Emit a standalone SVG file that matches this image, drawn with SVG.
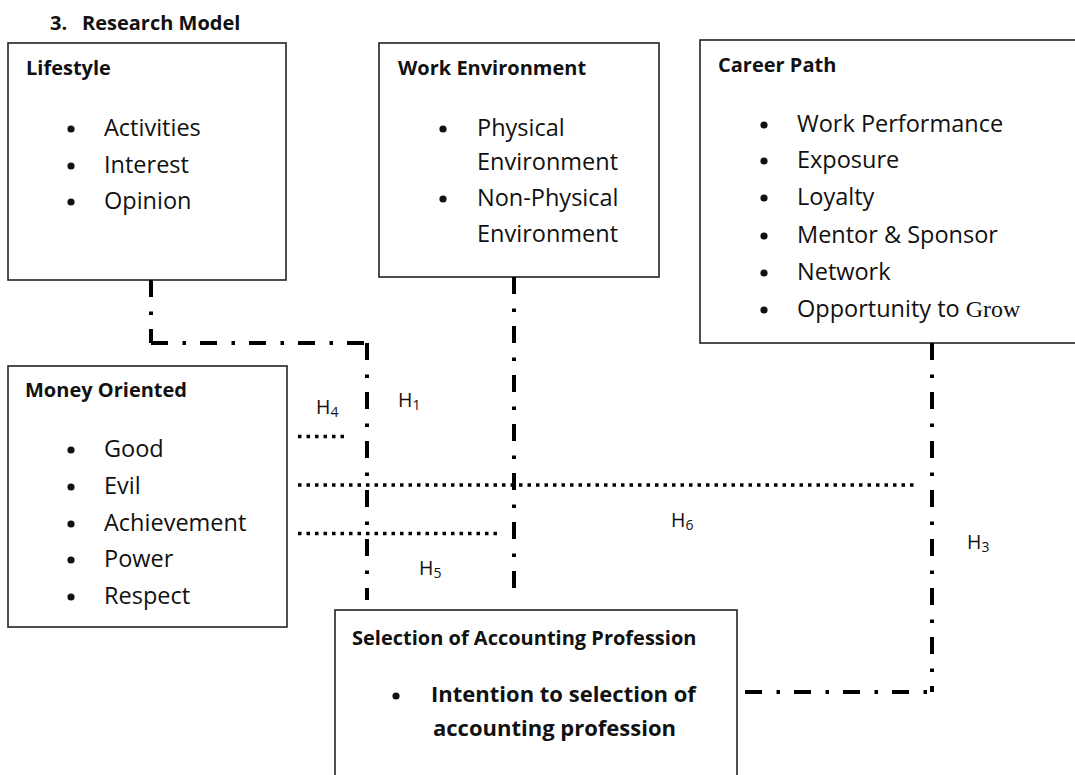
<svg xmlns="http://www.w3.org/2000/svg" width="1075" height="775" viewBox="0 0 1075 775">
<style>
.box{fill:#fff;stroke:#222;stroke-width:1.6}
.t{font-family:"Open Sans","Liberation Sans",sans-serif;font-weight:bold;font-size:20px;fill:#111}
.b{font-family:"Open Sans","Liberation Sans",sans-serif;font-size:23.5px;fill:#111}
.bb{font-family:"Open Sans","Liberation Sans",sans-serif;font-weight:bold;font-size:22px;fill:#111}
.h{font-family:"Open Sans","Liberation Sans",sans-serif;font-size:19.5px;fill:#111}
.s{font-size:14px}
.dot{fill:#111}
.dd{fill:none;stroke:#000;stroke-width:4;stroke-dasharray:17 14.5 3.5 14}
.dt{fill:none;stroke:#000;stroke-width:3.5;stroke-dasharray:3.5 5}
</style>
<rect width="1075" height="775" fill="#fff"/>
<text class="t" x="50" y="30">3.<tspan x="82">Research Model</tspan></text>

<g id="lifestyle">
<rect class="box" x="8" y="43" width="278" height="237"/>
<text class="t" x="26" y="75">Lifestyle</text>
<circle class="dot" cx="71" cy="129" r="3.6"/>
<circle class="dot" cx="71" cy="166" r="3.6"/>
<circle class="dot" cx="71" cy="202" r="3.6"/>
<text class="b" x="104" y="136">Activities</text>
<text class="b" x="104" y="173">Interest</text>
<text class="b" x="104" y="209">Opinion</text>
</g>

<g id="work-environment">
<rect class="box" x="379" y="43" width="280" height="234"/>
<text class="t" x="398" y="75">Work Environment</text>
<circle class="dot" cx="443" cy="129" r="3.6"/>
<circle class="dot" cx="443" cy="199" r="3.6"/>
<text class="b" x="477" y="136">Physical</text>
<text class="b" x="477" y="170">Environment</text>
<text class="b" x="477" y="206">Non-Physical</text>
<text class="b" x="477" y="242">Environment</text>
</g>

<g id="career-path">
<rect class="box" x="700" y="40" width="400" height="303"/>
<text class="t" x="718" y="72">Career Path</text>
<circle class="dot" cx="764" cy="125" r="3.6"/>
<circle class="dot" cx="764" cy="161" r="3.6"/>
<circle class="dot" cx="764" cy="198" r="3.6"/>
<circle class="dot" cx="764" cy="236" r="3.6"/>
<circle class="dot" cx="764" cy="273" r="3.6"/>
<circle class="dot" cx="764" cy="310" r="3.6"/>
<text class="b" x="797" y="132">Work Performance</text>
<text class="b" x="797" y="168">Exposure</text>
<text class="b" x="797" y="205">Loyalty</text>
<text class="b" x="797" y="243">Mentor &amp; Sponsor</text>
<text class="b" x="797" y="280">Network</text>
<text class="b" x="797" y="317">Opportunity to <tspan font-family="'Liberation Serif',serif" font-size="24">Grow</tspan></text>
</g>

<g id="money-oriented">
<rect class="box" x="8" y="366" width="279" height="261"/>
<text class="t" x="25" y="397">Money Oriented</text>
<circle class="dot" cx="71" cy="450" r="3.6"/>
<circle class="dot" cx="71" cy="487" r="3.6"/>
<circle class="dot" cx="71" cy="524" r="3.6"/>
<circle class="dot" cx="71" cy="560" r="3.6"/>
<circle class="dot" cx="71" cy="597" r="3.6"/>
<text class="b" x="104" y="457">Good</text>
<text class="b" x="104" y="494">Evil</text>
<text class="b" x="104" y="531">Achievement</text>
<text class="b" x="104" y="567">Power</text>
<text class="b" x="104" y="604">Respect</text>
</g>

<g id="selection">
<rect class="box" x="335" y="610" width="402" height="180"/>
<text class="t" x="352" y="645" font-size="20.4">Selection of Accounting Profession</text>
<circle class="dot" cx="396" cy="696" r="3.6"/>
<text class="bb" x="431" y="702">Intention to selection of</text>
<text class="bb" x="433" y="736">accounting profession</text>
</g>

<g id="connectors">
<path class="dd" d="M151,280 V343"/>
<path class="dd" d="M151,343 H369"/>
<path class="dd" d="M367,343 V600"/>
<path class="dd" d="M514,277 V588"/>
<path class="dd" d="M932,343 V692"/>
<path class="dd" d="M745,692 H932"/>
<path class="dt" d="M298,436.5 H348"/>
<path class="dt" d="M298,485 H918"/>
<path class="dt" d="M298,533.5 H497"/>
</g>

<g id="labels">
<text class="h" x="398" y="407">H<tspan class="s" dy="3">1</tspan></text>
<text class="h" x="316" y="414">H<tspan class="s" dy="3">4</tspan></text>
<text class="h" x="419" y="575">H<tspan class="s" dy="3">5</tspan></text>
<text class="h" x="671" y="527">H<tspan class="s" dy="3">6</tspan></text>
<text class="h" x="967" y="549">H<tspan class="s" dy="3">3</tspan></text>
</g>
</svg>
